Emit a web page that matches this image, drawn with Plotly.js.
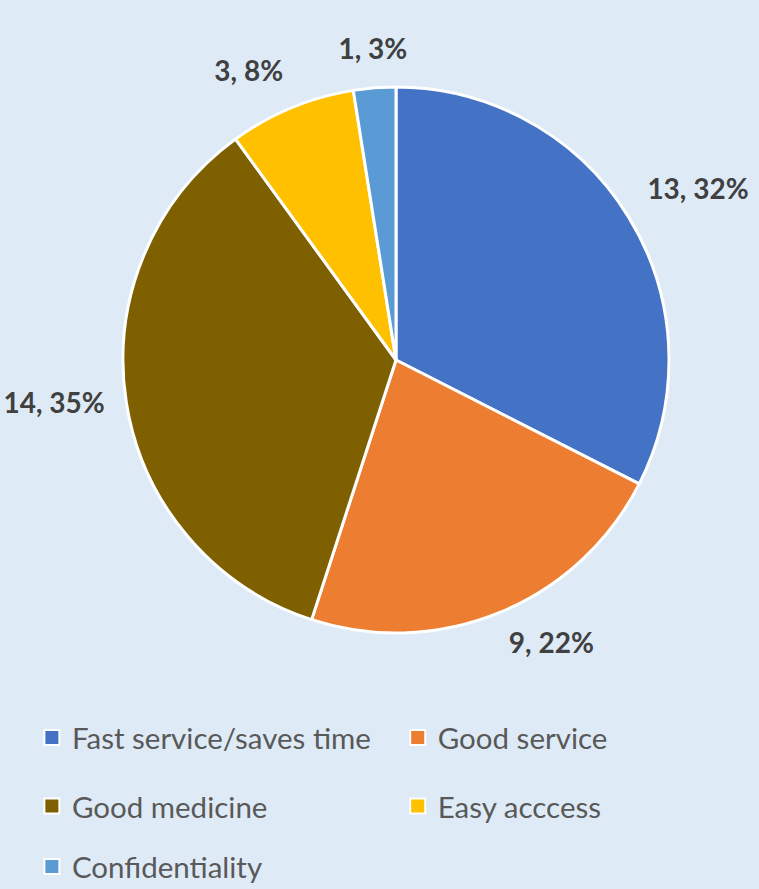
<!DOCTYPE html>
<html>
<head>
<meta charset="utf-8">
<script src="https://cdn.plot.ly/plotly-3.0.1.min.js"></script>
<style>html,body{margin:0;padding:0;background:#DEEBF7;}#chart{width:759px;height:889px;}</style>
</head>
<body>
<div id="chart"></div>
<script>
const labels = ["Fast service/saves time", "Good service", "Good medicine", "Easy acccess", "Confidentiality"];
const values = [13, 9, 14, 3, 1];
const percentLabels = ["32%", "22%", "35%", "8%", "3%"];
const colors = ["#4472C4", "#ED7D31", "#7F6000", "#FFC000", "#5B9BD5"];

const W = 759, H = 889;
const cx = 396, cy = 360, R = 273;       // pie centre / radius in px
const labelR = 1.08;                      // label anchor radius relative to pie radius
const polarScale = 1.3;                   // polar radial range relative to pie radius

const total = values.reduce((a, b) => a + b, 0);
let cum = 0;
const midAngles = values.map(v => { const m = (cum + v / 2) / total * 360; cum += v; return m; });

function posFor(a) {
  if (a < 10 || a >= 350) return "top center";
  if (a < 80) return "top right";
  if (a < 100) return "middle right";
  if (a < 170) return "bottom right";
  if (a < 190) return "bottom center";
  if (a < 255) return "bottom left";
  if (a < 285) return "middle left";
  return "top left";
}

function dom(r) {
  return {x: [(cx - r) / W, (cx + r) / W], y: [1 - (cy + r) / H, 1 - (cy - r) / H]};
}

const pie = {
  type: "pie",
  labels: labels,
  values: values,
  textinfo: "none",
  sort: false,
  direction: "clockwise",
  rotation: 0,
  showlegend: false,
  marker: {colors: colors, line: {color: "#FFFFFF", width: 3}},
  domain: dom(R),
  hoverinfo: "label+value+percent"
};

const labelTrace = {
  type: "scatterpolar",
  mode: "text",
  r: values.map(() => labelR),
  theta: midAngles,
  text: values.map((v, i) => v + ", " + percentLabels[i]),
  textposition: midAngles.map(posFor),
  textfont: {family: "Lato, 'Open Sans', sans-serif", size: 28, color: "#404040", weight: "bold"},
  cliponaxis: false,
  showlegend: false,
  hoverinfo: "skip",
  subplot: "polar"
};

const legendSlots = [
  {x: 0.042, y: 0.170}, {x: 0.524, y: 0.170},
  {x: 0.042, y: 0.093}, {x: 0.524, y: 0.093},
  {x: 0.042, y: 0.025}
];
const legendNames = ["legend", "legend2", "legend3", "legend4", "legend5"];

const legendTraces = labels.map((lab, i) => ({
  type: "scatterpolar",
  mode: "markers",
  r: [null], theta: [null],
  name: lab,
  legend: legendNames[i],
  showlegend: true,
  marker: {symbol: "square", size: 15, color: colors[i], line: {color: "#FFFFFF", width: 2}},
  hoverinfo: "skip",
  subplot: "polar"
}));

const legendFont = {family: "Lato, 'Open Sans', sans-serif", size: 29.5, color: "#595959"};

const layout = {
  width: W, height: H,
  margin: {l: 0, r: 0, t: 0, b: 0, autoexpand: false},
  paper_bgcolor: "#DEEBF7",
  showlegend: true,
  polar: {
    domain: dom(R * polarScale),
    bgcolor: "rgba(0,0,0,0)",
    radialaxis: {range: [0, polarScale], visible: false, showgrid: false},
    angularaxis: {rotation: 90, direction: "clockwise", visible: false, showgrid: false, showline: false, showticklabels: false, ticks: ""}
  }
};
legendNames.forEach((n, i) => {
  layout[n] = {x: legendSlots[i].x, y: legendSlots[i].y, xanchor: "left", yanchor: "middle",
    bgcolor: "rgba(0,0,0,0)", font: legendFont, itemclick: false, itemdoubleclick: false};
});

Plotly.newPlot("chart", [pie, labelTrace].concat(legendTraces), layout, {displayModeBar: false, staticPlot: true});
</script>
</body>
</html>
